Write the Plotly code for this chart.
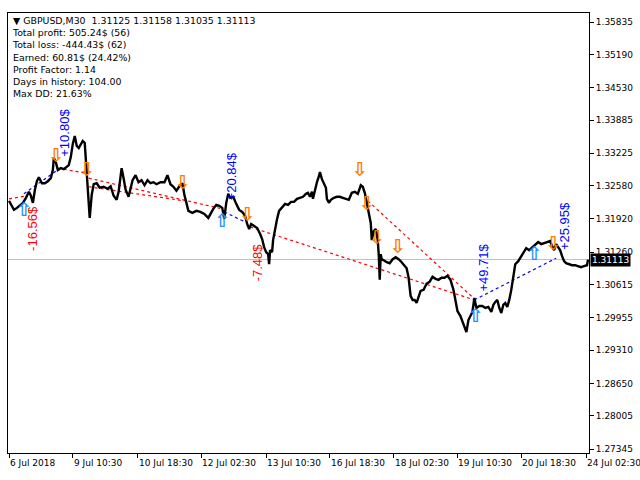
import plotly.graph_objects as go

# price path, bar index vs close (M30 bars)
bars = [0, 3, 5, 8, 11, 14, 17, 20, 22, 24, 26, 28, 30, 33, 36, 39, 42, 44, 45, 47,
        49, 52, 55, 58, 60, 62, 64, 66, 68, 70, 72, 74, 76, 77, 78, 80, 81, 83, 85, 88,
        91, 95, 99, 102, 105, 108, 110, 112, 113, 115, 117, 120, 122, 124, 127, 130, 133, 136, 139, 142,
        145, 148, 152, 156, 159, 162, 165, 168, 171, 174, 176, 178, 180, 184, 188, 192, 196, 200, 202, 205,
        208, 211, 214, 216, 218, 220, 222, 225, 228, 231, 234, 237, 239, 241, 243, 246, 249, 252, 254, 256,
        258, 260, 261, 262, 264, 265, 267, 269, 271, 274, 277, 280, 283, 286, 289, 292, 295, 298, 300, 302,
        304, 305, 307, 309, 311, 312, 314, 316, 318, 319, 321, 323, 326, 329, 332, 335, 338, 341, 344, 347,
        350, 353, 355, 357, 359, 361, 363, 364, 366, 368, 370, 371, 372, 373, 374, 376, 379, 382, 385, 388,
        391, 394, 397, 399, 401, 403, 405, 407, 409, 411, 413, 416, 419, 422, 425, 428, 431, 434, 437, 440,
        443, 446, 448, 450, 453, 455, 457, 459, 461, 463, 465, 467, 469, 472, 475, 478, 481, 484, 486, 488,
        490, 492, 494, 496, 498, 500, 502, 504, 506, 508, 511, 514, 517, 519, 522, 525, 528, 531, 534, 537,
        540, 543, 545, 547, 549, 551, 553, 555, 557, 559, 562, 565, 568, 571, 574, 577, 580, 581]
closes = [1.3228, 1.3218, 1.3210, 1.3214, 1.3220, 1.3224, 1.3234, 1.3246, 1.3238, 1.3224,
          1.3250, 1.3267, 1.3275, 1.3263, 1.3263, 1.3267, 1.3273, 1.3289, 1.3313, 1.3305,
          1.3289, 1.3293, 1.3291, 1.3297, 1.3299, 1.3315, 1.3341, 1.3357, 1.3337, 1.3333,
          1.3339, 1.3347, 1.3343, 1.3313, 1.3279, 1.3234, 1.3194, 1.3240, 1.3261, 1.3263,
          1.3254, 1.3256, 1.3252, 1.3257, 1.3238, 1.3230, 1.3246, 1.3277, 1.3293, 1.3273,
          1.3250, 1.3236, 1.3254, 1.3269, 1.3279, 1.3265, 1.3269, 1.3259, 1.3269, 1.3263,
          1.3265, 1.3261, 1.3265, 1.3265, 1.3279, 1.3261, 1.3256, 1.3248, 1.3257, 1.3263,
          1.3240, 1.3224, 1.3208, 1.3204, 1.3208, 1.3206, 1.3202, 1.3194, 1.3202, 1.3212,
          1.3220, 1.3218, 1.3214, 1.3192, 1.3224, 1.3242, 1.3234, 1.3236, 1.3222, 1.3210,
          1.3206, 1.3198, 1.3182, 1.3172, 1.3182, 1.3178, 1.3174, 1.3162, 1.3152, 1.3136,
          1.3126, 1.3122, 1.3102, 1.3130, 1.3126, 1.3150, 1.3174, 1.3192, 1.3208, 1.3216,
          1.3222, 1.3220, 1.3226, 1.3226, 1.3232, 1.3234, 1.3236, 1.3242, 1.3244, 1.3236,
          1.3246, 1.3232, 1.3250, 1.3265, 1.3277, 1.3285, 1.3271, 1.3263, 1.3254, 1.3232,
          1.3224, 1.3230, 1.3234, 1.3236, 1.3236, 1.3234, 1.3232, 1.3230, 1.3244, 1.3246,
          1.3242, 1.3259, 1.3256, 1.3244, 1.3224, 1.3206, 1.3184, 1.3150, 1.3168, 1.3172,
          1.3150, 1.3122, 1.3071, 1.3122, 1.3112, 1.3110, 1.3106, 1.3104, 1.3112, 1.3116,
          1.3112, 1.3106, 1.3100, 1.3094, 1.3075, 1.3039, 1.3031, 1.3031, 1.3025, 1.3039,
          1.3049, 1.3051, 1.3063, 1.3067, 1.3077, 1.3073, 1.3071, 1.3075, 1.3075, 1.3079,
          1.3071, 1.3051, 1.3031, 1.3009, 1.2999, 1.2987, 1.2975, 1.2967, 1.2991, 1.2999,
          1.3007, 1.3035, 1.3015, 1.3019, 1.3019, 1.3015, 1.3017, 1.3007, 1.3021, 1.3027,
          1.3031, 1.3015, 1.3005, 1.3021, 1.3025, 1.3017, 1.3031, 1.3051, 1.3079, 1.3102,
          1.3108, 1.3118, 1.3128, 1.3134, 1.3130, 1.3136, 1.3140, 1.3146, 1.3142, 1.3144,
          1.3146, 1.3148, 1.3138, 1.3130, 1.3142, 1.3136, 1.3130, 1.3118, 1.3108, 1.3104,
          1.3102, 1.3100, 1.3100, 1.3098, 1.3096, 1.3098, 1.3100, 1.3111]
last_price = 1.31113

# trade history lines: open -> close
trade_open_bar = [0, 15, 49, 80, 80, 216, 242, 360, 467]
trade_open_price = [1.3232, 1.3242, 1.3293, 1.3273, 1.3256, 1.3206, 1.3176, 1.3228, 1.3031]
trade_close_bar = [18, 47, 77, 214, 176, 239, 467, 467, 549]
trade_close_price = [1.3238, 1.3287, 1.3283, 1.3212, 1.3228, 1.3184, 1.3031, 1.3033, 1.3114]
trade_side = ["sell", "buy", "sell", "sell", "sell", "buy", "sell", "sell", "buy"]

sell_bars = [47, 78, 174, 239, 352, 359, 369, 390, 546]
sell_prices = [1.3315, 1.3287, 1.3261, 1.3198, 1.3287, 1.3220, 1.3152, 1.3134, 1.3140]
buy_bars = [15, 214, 468, 527]
buy_prices = [1.3208, 1.3186, 1.2997, 1.3120]

profit_text = ["-16.56$", "+10.80$", "+20.84$", "-7.48$", "+49.71$", "+25.95$"]
profit_bar = [24, 56, 223, 249, 476, 558]
profit_price = [1.3174, 1.3363, 1.3277, 1.3106, 1.3096, 1.3178]

y_ticks = [1.35835, 1.35190, 1.34530, 1.33885, 1.33225, 1.32580, 1.31920,
           1.31260, 1.30615, 1.29955, 1.29310, 1.28650, 1.28005, 1.27345]
x_tick_bars = [0, 64, 129, 193, 258, 322, 386, 450, 514, 579]
x_tick_labels = ["6 Jul 2018", "9 Jul 10:30", "10 Jul 18:30", "12 Jul 02:30", "13 Jul 10:30",
                 "16 Jul 18:30", "18 Jul 02:30", "19 Jul 10:30", "20 Jul 18:30", "24 Jul 02:30"]

header = "▼ GBPUSD,M30  1.31125 1.31158 1.31035 1.31113"
stats = ["Total profit: 505.24$ (56)", "Total loss: -444.43$ (62)", "Earned: 60.81$ (24.42%)",
         "Profit Factor: 1.14", "Days in history: 104.00", "Max DD: 21.63%"]

RED = "#ff0000"
BLUE = "#0000ff"
AXFONT = dict(family="DejaVu Sans", size=9, color="black")

fig = go.Figure()

for i in range(len(trade_side)):
    fig.add_trace(go.Scatter(
        x=[trade_open_bar[i], trade_close_bar[i]],
        y=[trade_open_price[i], trade_close_price[i]],
        mode="lines",
        line=dict(color=RED if trade_side[i] == "sell" else BLUE, width=1.2, dash="3px,3px"),
        hoverinfo="skip",
    ))

fig.add_trace(go.Scatter(x=bars, y=closes, mode="lines",
                         line=dict(color="black", width=2.4), hoverinfo="skip"))

fig.add_trace(go.Scatter(x=sell_bars, y=sell_prices, mode="text", text=["⇩"] * len(sell_bars),
                         textfont=dict(family="DejaVu Sans", size=19, color="#ff7a00",
                                       weight="bold"),
                         hoverinfo="skip"))
fig.add_trace(go.Scatter(x=buy_bars, y=buy_prices, mode="text", text=["⇧"] * len(buy_bars),
                         textfont=dict(family="DejaVu Sans", size=19, color="#1e90ff",
                                       weight="bold"),
                         hoverinfo="skip"))

fig.add_shape(type="line", xref="paper", x0=0, x1=1, yref="y", y0=last_price, y1=last_price,
              line=dict(color="#c0c0c0", width=1), layer="below")

for t, b, p in zip(profit_text, profit_bar, profit_price):
    fig.add_annotation(x=b, y=p, text=t, showarrow=False, textangle=-90,
                       font=dict(family="Liberation Sans", size=13,
                                 color=RED if t.startswith("-") else BLUE))

for b, lab in zip(x_tick_bars, x_tick_labels):
    fig.add_annotation(x=b, xref="x", y=0, yref="paper", text=lab, showarrow=False,
                       xanchor="left", yanchor="top", yshift=-3, xshift=-1, font=AXFONT)

fig.add_annotation(xref="paper", yref="paper", x=0, y=1, xanchor="left", yanchor="top",
                   xshift=2, yshift=0, align="left", showarrow=False,
                   text="<br>".join([header] + stats),
                   font=dict(family="DejaVu Sans", size=9.4, color="black"))

fig.add_annotation(xref="paper", x=1, xanchor="left", xshift=1, yref="y", y=last_price,
                   text="1.31113", showarrow=False, bgcolor="black", borderpad=1,
                   font=dict(family="DejaVu Sans", size=9, color="white"))

fig.update_layout(
    width=640, height=480,
    margin=dict(l=7, r=50, t=13, b=27),
    paper_bgcolor="white", plot_bgcolor="white",
    showlegend=False,
    xaxis=dict(range=[-1, 582], tickvals=x_tick_bars, ticktext=[""] * len(x_tick_bars),
               ticks="outside", ticklen=4, tickcolor="black", showgrid=False, zeroline=False,
               showline=True, linecolor="black", linewidth=1, mirror=True, fixedrange=True),
    yaxis=dict(range=[1.27267, 1.36014], side="right", tickvals=y_ticks,
               ticktext=[f"{v:.5f}" for v in y_ticks], ticks="outside", ticklen=4,
               tickcolor="black", tickfont=AXFONT, showgrid=False, zeroline=False,
               showline=True, linecolor="black", linewidth=1, mirror=True, fixedrange=True),
)

# page body has a default 8px margin; drop it so the figure sits at the window corner
fig.write_html("out.html", config={"displayModeBar": False},
               post_script="document.body.style.margin='0';")
